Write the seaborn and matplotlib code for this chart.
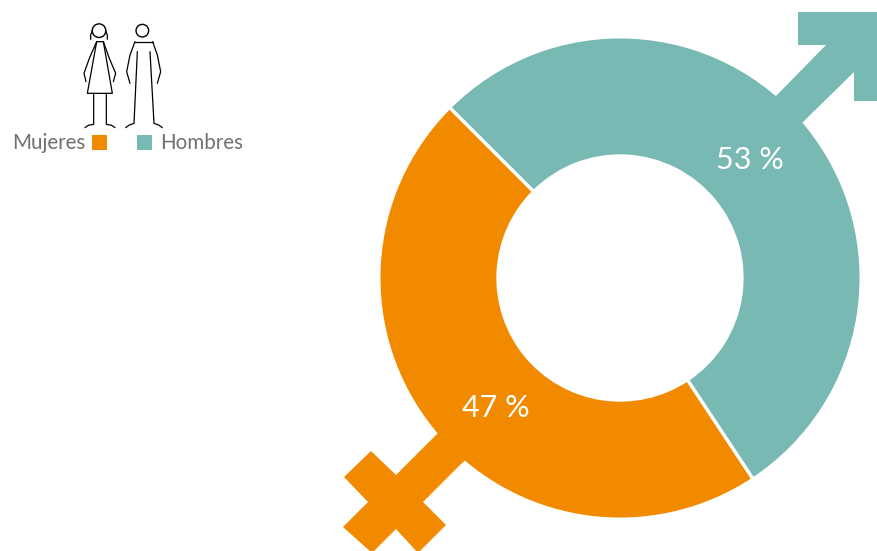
import matplotlib
matplotlib.use("Agg")
import matplotlib.pyplot as plt
import seaborn as sns
from matplotlib.patches import Polygon, Circle, Rectangle

labels = ["Hombres", "Mujeres"]
values = [53.2, 46.8]
pct_labels = ["53 %", "47 %"]
colors = ["#79B9B4", "#F28A00"]

sns.set_theme(style="white")
plt.rcParams["font.family"] = ["Lato", "DejaVu Sans"]

W, H = 878, 551


# picture pixels -> axes coords (y goes up)
def px(x, y):
    return (x, H - y)


# the zoomed legend crop was 3x from (0,10)
def zm(x, y):
    return px(x / 3, y / 3 + 10)


fig = plt.figure(figsize=(W / 100, H / 100), dpi=100)
ax = fig.add_axes([0, 0, 1, 1])

# donut
radius = 241.2
inner = 122
wedges, _ = ax.pie(values, colors=sns.color_palette(colors), startangle=135, counterclock=False,
                   center=px(620, 278), radius=radius, frame=True,
                   wedgeprops=dict(width=radius - inner, edgecolor="white", linewidth=2.4))

# arrow of the male sign
male = [(798, 12), (880, 12), (880, 101), (854, 101), (854, 72), (803, 122),
        (785, 140), (758, 114), (776, 96), (826, 45), (798, 45)]
ax.add_patch(Polygon([px(*p) for p in male], closed=True, fc=colors[0], ec="none", zorder=3))

# cross of the female sign
female = [(371, 451), (396, 475), (437, 434), (455, 416), (482, 445), (460, 465),
          (423, 502), (446, 525), (418, 553), (396, 529), (372, 553), (343, 527),
          (368, 502), (344, 477)]
ax.add_patch(Polygon([px(*p) for p in female], closed=True, fc=colors[1], ec="none", zorder=3))

ax.text(*px(750, 160), pct_labels[0], color="white", fontsize=22, ha="center", va="center", zorder=4)
ax.text(*px(496, 408), pct_labels[1], color="white", fontsize=22, ha="center", va="center", zorder=4)

# legend
ax.add_patch(Rectangle(px(92, 150), 15, 15, fc=colors[1], ec="none"))
ax.add_patch(Rectangle(px(137, 150), 15, 15, fc=colors[0], ec="none"))
ax.text(*px(12, 149), labels[1], color="#707070", fontsize=14.8, ha="left", va="baseline")
ax.text(*px(160, 149), labels[0], color="#707070", fontsize=14.8, ha="left", va="baseline")

# little figures
figure_lines = [
    # woman
    [(290, 95), (262, 250), (337, 250), (310, 95), (290, 95)],
    [(290, 95), (268, 145), (252, 190), (258, 215)],
    [(310, 95), (328, 145), (347, 190), (340, 215)],
    [(281, 250), (281, 343), (265, 346), (255, 353)],
    [(319, 250), (319, 343), (335, 346), (345, 353)],
    [(278, 60), (272, 75), (272, 88)],
    [(316, 60), (322, 75), (322, 88)],
    # man
    [(405, 95), (458, 95)],
    [(405, 95), (390, 135), (380, 185), (390, 220)],
    [(458, 95), (472, 135), (482, 185), (472, 220)],
    [(412, 125), (402, 340), (388, 345), (377, 353)],
    [(450, 125), (462, 340), (476, 345), (487, 353)],
]
for line in figure_lines:
    pts = [zm(*p) for p in line]
    ax.plot([p[0] for p in pts], [p[1] for p in pts], color="black", lw=0.9,
            solid_capstyle="round", solid_joinstyle="round")
ax.add_patch(Circle(zm(297, 62), 6.8, fc="none", ec="black", lw=1.0))
ax.add_patch(Circle(zm(427, 62), 6.3, fc="none", ec="black", lw=1.0))

ax.set_xlim(0, W)
ax.set_ylim(0, H)
ax.set_aspect("equal")
ax.axis("off")

fig.savefig("out.png", dpi=100, facecolor="white")
